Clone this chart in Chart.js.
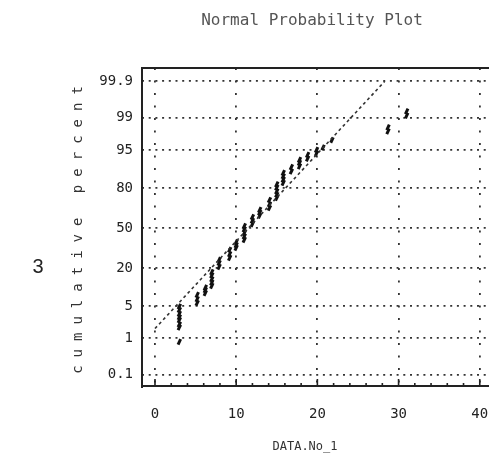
<!DOCTYPE html>
<html>
<head>
<meta charset="utf-8">
<script src="https://cdn.jsdelivr.net/npm/chart.js@4.4.1/dist/chart.umd.min.js"></script>
<style>
  html, body { margin: 0; padding: 0; background: #fff; overflow: hidden; }
  #wrap { position: relative; width: 520px; height: 465px; }
</style>
</head>
<body>
<div id="wrap"><canvas id="probPlot" width="520" height="465"></canvas></div>
<script>
const xTickValues = [0, 10, 20, 30, 40];
const xMinorTicks = [2, 4, 6, 8, 12, 14, 16, 18, 22, 24, 26, 28, 32, 34, 36, 38];
const yTickPct = [0.1, 1, 5, 20, 50, 80, 95, 99, 99.9];
const yTickLabels = ["0.1", "1", "5", "20", "50", "80", "95", "99", "99.9"];

const obsX = [
  3, 3, 3, 3, 3, 3, 3, 3,
  5.2, 5.2, 5.2,
  6.2, 6.2, 6.2,
  7, 7, 7, 7, 7,
  7.9, 7.9, 7.9,
  9.2, 9.2, 9.2,
  10, 10, 10,
  11, 11, 11, 11, 11,
  12, 12, 12,
  12.9, 12.9, 12.9,
  14.1, 14.1, 14.1,
  15, 15, 15, 15, 15,
  15.8, 15.8, 15.8, 15.8,
  16.8, 16.8,
  17.8, 17.8, 17.8,
  18.8, 18.8,
  19.9, 19.9,
  20.7,
  21.8,
  28.7, 28.7,
  31, 31,
];
const obsPct = [
  0.82, 1.8, 2.1, 2.6, 3.0, 3.5, 4.2, 4.9,
  5.7, 6.7, 7.9,
  8.5, 9.5, 10.4,
  11.1, 12.5, 14.0, 15.9, 17.6,
  20.6, 23.0, 25.1,
  26.4, 29.1, 32.3,
  33.7, 35.9, 38.2,
  40.1, 42.9, 45.6, 48.8, 51.6,
  53.2, 56.0, 59.1,
  60.3, 62.6, 64.8,
  66.3, 69.1, 72.2,
  73.6, 75.8, 77.9, 80.2, 82.1,
  82.9, 84.6, 86.2, 87.7,
  88.3, 90.0,
  90.3, 91.5, 92.4,
  92.8, 93.8,
  94.2, 95.0,
  95.5,
  96.8,
  97.9, 98.3,
  99.1, 99.3,
];

// fitted normal line, end points
const fitX = [0, 28.3];
const fitPct = [1.7, 99.9];

// inverse normal cdf (Acklam), percent -> z
function probit(pct) {
  const p = pct / 100;
  const a = [-39.69683028665376, 220.9460984245205, -275.9285104469687, 138.3577518672690, -30.66479806614716, 2.506628277459239];
  const b = [-54.47609879822406, 161.5858368580409, -155.6989798598866, 66.80131188771972, -13.28068155288572];
  const c = [-0.007784894002430293, -0.3223964580411365, -2.400758277161838, -2.549732539343734, 4.374664141464968, 2.938163982698783];
  const d = [0.007784695709041462, 0.3224671290700398, 2.445134137142996, 3.754408661907416];
  const pLow = 0.02425;
  if (p < pLow) {
    const q = Math.sqrt(-2 * Math.log(p));
    return (((((c[0] * q + c[1]) * q + c[2]) * q + c[3]) * q + c[4]) * q + c[5]) /
      ((((d[0] * q + d[1]) * q + d[2]) * q + d[3]) * q + 1);
  }
  if (p > 1 - pLow) {
    const q = Math.sqrt(-2 * Math.log(1 - p));
    return -(((((c[0] * q + c[1]) * q + c[2]) * q + c[3]) * q + c[4]) * q + c[5]) /
      ((((d[0] * q + d[1]) * q + d[2]) * q + d[3]) * q + 1);
  }
  const q = p - 0.5;
  const r = q * q;
  return (((((a[0] * r + a[1]) * r + a[2]) * r + a[3]) * r + a[4]) * r + a[5]) * q /
    (((((b[0] * r + b[1]) * r + b[2]) * r + b[3]) * r + b[4]) * r + 1);
}

const ink = "#222";
const mono = "'DejaVu Sans Mono', monospace";

const framePlugin = {
  id: "frame",
  afterDraw(chart) {
    const { ctx, chartArea: a, scales } = chart;
    ctx.save();
    ctx.strokeStyle = ink;
    ctx.lineWidth = 2;
    ctx.beginPath();
    ctx.moveTo(a.left, a.bottom + 2);
    ctx.lineTo(a.left, a.top);
    ctx.lineTo(a.right, a.top);
    ctx.moveTo(a.left, a.bottom);
    ctx.lineTo(a.right, a.bottom);
    ctx.stroke();

    // tick marks pointing up from the bottom axis
    ctx.lineWidth = 1.6;
    ctx.beginPath();
    xTickValues.forEach((v) => {
      const x = scales.x.getPixelForValue(v);
      ctx.moveTo(x, a.bottom);
      ctx.lineTo(x, a.bottom - 7);
    });
    xMinorTicks.forEach((v) => {
      const x = scales.x.getPixelForValue(v);
      ctx.moveTo(x, a.bottom);
      ctx.lineTo(x, a.bottom - 3);
    });
    ctx.stroke();
    ctx.restore();
  },
};

const textPlugin = {
  id: "texts",
  afterDraw(chart) {
    const { ctx } = chart;
    ctx.save();
    ctx.textAlign = "center";
    ctx.textBaseline = "middle";

    ctx.fillStyle = "#555";
    ctx.font = `16px ${mono}`;
    ctx.fillText("Normal Probability Plot", 312, 21);

    ctx.fillStyle = "#333";
    ctx.font = `12px ${mono}`;
    ctx.fillText("DATA.No_1", 305, 447);

    ctx.save();
    ctx.translate(78, 230);
    ctx.rotate(-Math.PI / 2);
    ctx.font = `14px ${mono}`;
    ctx.letterSpacing = "8px";
    ctx.fillText("cumulative percent", 4, 0);
    ctx.restore();

    ctx.fillStyle = "#222";
    ctx.font = "20px 'Liberation Sans', Arial, sans-serif";
    ctx.fillText("3", 38, 267);
    ctx.restore();
  },
};

new Chart(document.getElementById("probPlot").getContext("2d"), {
  type: "scatter",
  data: {
    datasets: [
      {
        label: "fit",
        type: "line",
        data: fitX.map((x, i) => ({ x, y: probit(fitPct[i]) })),
        borderColor: "#333",
        borderWidth: 1.6,
        borderDash: [3, 3],
        pointRadius: 0,
        fill: false,
      },
      {
        label: "data",
        data: obsX.map((x, i) => ({ x, y: probit(obsPct[i]) })),
        pointStyle: "line",
        rotation: -65,
        pointRadius: 3,
        borderColor: "#111",
        backgroundColor: "#111",
        borderWidth: 3,
      },
    ],
  },
  options: {
    responsive: false,
    animation: false,
    layout: { padding: { top: 68, right: 24, left: 0, bottom: 0 } },
    plugins: {
      legend: { display: false },
      tooltip: { enabled: false },
    },
    scales: {
      x: {
        type: "linear",
        min: -1.6,
        max: 42,
        afterBuildTicks: (s) => {
          s.ticks = xTickValues.map((v) => ({ value: v }));
        },
        afterFit: (s) => {
          s.height = 79;
        },
        grid: { color: "#333", lineWidth: 1.8, drawTicks: false },
        border: { display: false, dash: [2, 10.5] },
        ticks: {
          padding: 20,
          color: ink,
          font: { family: mono, size: 14 },
          callback: (v) => String(v),
        },
      },
      y: {
        type: "linear",
        min: -3.33,
        max: 3.37,
        afterBuildTicks: (s) => {
          s.ticks = yTickPct.map((p) => ({ value: probit(p) }));
        },
        afterFit: (s) => {
          s.width = 142;
        },
        grid: { color: "#333", lineWidth: 1.8, drawTicks: false },
        border: { display: false, dash: [2, 4.7] },
        ticks: {
          padding: 9,
          color: ink,
          font: { family: mono, size: 14 },
          callback: (v, i) => yTickLabels[i],
        },
      },
    },
  },
  plugins: [framePlugin, textPlugin],
});
</script>
</body>
</html>
